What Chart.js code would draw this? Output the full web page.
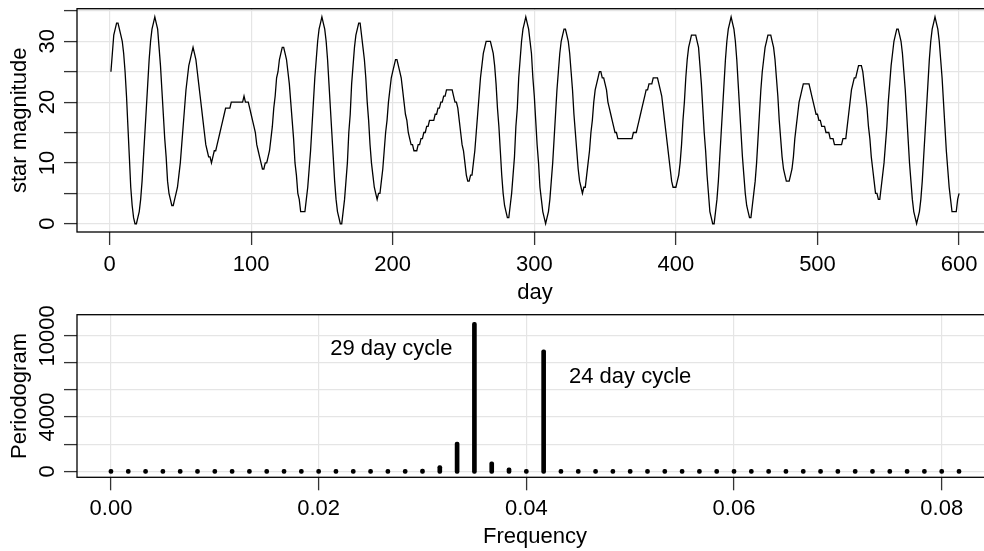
<!DOCTYPE html>
<html>
<head>
<meta charset="utf-8">
<script src="https://cdn.jsdelivr.net/npm/chart.js@4.4.1/dist/chart.umd.min.js"></script>
<style>
  html, body { margin: 0; padding: 0; background: #fff; overflow: hidden; width: 984px; height: 551px; }
  canvas { position: absolute; left: 0; }
  #top { top: 0; }
  #bottom { top: 300px; }
</style>
</head>
<body>
<canvas id="top" width="1010" height="310"></canvas>
<canvas id="bottom" width="1010" height="251"></canvas>
<script>
// star magnitude, days 1..600
var starMag = [
  25, 28, 31, 32, 33, 33, 32, 31, 30, 28,
  25, 21, 16, 11, 6, 3, 1, 0, 0, 1,
  2, 4, 7, 11, 15, 19, 23, 27, 30, 32,
  33, 34, 33, 32, 29, 26, 22, 18, 14, 11,
  7, 5, 4, 3, 3, 4, 5, 6, 8, 10,
  13, 16, 19, 22, 24, 26, 27, 28, 29, 28,
  27, 25, 23, 21, 19, 17, 15, 13, 12, 11,
  11, 10, 11, 12, 12, 13, 14, 15, 16, 17,
  18, 19, 19, 19, 19, 20, 20, 20, 20, 20,
  20, 20, 20, 20, 21, 20, 20, 20, 19, 18,
  17, 16, 15, 13, 12, 11, 10, 9, 9, 10,
  10, 11, 12, 14, 16, 19, 21, 24, 25, 27,
  28, 29, 29, 28, 27, 25, 23, 20, 17, 14,
  10, 8, 5, 4, 2, 2, 2, 2, 4, 6,
  9, 12, 16, 20, 24, 27, 30, 32, 33, 34,
  33, 32, 30, 27, 23, 19, 15, 11, 7, 4,
  2, 1, 0, 0, 2, 4, 7, 10, 15, 18,
  23, 26, 29, 31, 32, 33, 33, 31, 29, 27,
  24, 20, 17, 13, 10, 8, 6, 5, 4, 5,
  5, 7, 9, 12, 15, 17, 20, 22, 24, 25,
  26, 27, 27, 26, 25, 24, 22, 20, 18, 17,
  15, 14, 13, 13, 12, 12, 12, 13, 13, 14,
  14, 15, 15, 16, 16, 17, 17, 17, 17, 18,
  18, 19, 19, 20, 20, 21, 21, 22, 22, 22,
  22, 22, 21, 20, 20, 19, 17, 15, 13, 12,
  10, 8, 7, 7, 8, 8, 10, 12, 15, 18,
  21, 24, 26, 28, 29, 30, 30, 30, 30, 29,
  28, 26, 23, 19, 16, 12, 8, 5, 3, 2,
  1, 1, 3, 5, 8, 11, 16, 19, 24, 27,
  30, 32, 33, 34, 33, 32, 30, 28, 24, 21,
  17, 13, 10, 6, 4, 2, 1, 0, 1, 2,
  4, 7, 10, 14, 18, 22, 25, 28, 30, 31,
  32, 32, 31, 30, 28, 25, 22, 18, 15, 12,
  9, 7, 6, 5, 6, 6, 8, 10, 12, 15,
  17, 20, 22, 23, 24, 25, 25, 24, 24, 23,
  22, 20, 19, 18, 17, 16, 15, 15, 14, 14,
  14, 14, 14, 14, 14, 14, 14, 14, 14, 15,
  15, 15, 16, 17, 18, 19, 20, 21, 22, 22,
  23, 23, 23, 24, 24, 24, 24, 23, 22, 21,
  19, 17, 15, 13, 11, 9, 7, 6, 6, 6,
  7, 8, 10, 13, 17, 20, 24, 27, 29, 30,
  31, 31, 31, 31, 30, 29, 26, 23, 19, 15,
  12, 8, 5, 2, 1, 0, 0, 2, 4, 7,
  11, 15, 19, 23, 27, 30, 32, 33, 34, 33,
  32, 30, 27, 23, 19, 15, 11, 8, 5, 3,
  2, 1, 1, 3, 5, 7, 10, 14, 18, 22,
  25, 27, 29, 30, 31, 31, 31, 30, 29, 27,
  24, 21, 17, 14, 11, 9, 8, 7, 7, 7,
  8, 9, 11, 14, 16, 18, 20, 21, 22, 23,
  23, 23, 23, 23, 22, 21, 20, 19, 18, 18,
  17, 17, 16, 16, 16, 15, 15, 15, 14, 14,
  14, 13, 13, 13, 13, 13, 13, 14, 14, 14,
  16, 18, 20, 22, 23, 24, 24, 25, 26, 26,
  26, 25, 23, 21, 19, 16, 14, 11, 9, 7,
  5, 5, 4, 4, 6, 8, 10, 13, 16, 20,
  23, 26, 28, 30, 31, 32, 32, 31, 30, 28,
  25, 22, 18, 14, 10, 7, 4, 2, 1, 0,
  1, 2, 4, 7, 11, 15, 19, 23, 27, 30,
  32, 33, 34, 33, 32, 30, 27, 24, 20, 16,
  12, 9, 6, 4, 2, 2, 2, 2, 4, 5
];
var days = [];
for (var d = 1; d <= starMag.length; d++) days.push(d);

var dayTicks = [0, 100, 200, 300, 400, 500, 600];
var magTicks = [0, 5, 10, 15, 20, 25, 30, 35];
var magTickLabels = ['0', '', '10', '', '20', '', '30', ''];

// periodogram at the Fourier frequencies k/600
var freqs = [0, 0.001667, 0.003333, 0.005, 0.006667, 0.008333, 0.01, 0.011667, 0.013333, 0.015,
  0.016667, 0.018333, 0.02, 0.021667, 0.023333, 0.025, 0.026667, 0.028333, 0.03, 0.031667,
  0.033333, 0.035, 0.036667, 0.038333, 0.04, 0.041667, 0.043333, 0.045, 0.046667, 0.048333,
  0.05, 0.051667, 0.053333, 0.055, 0.056667, 0.058333, 0.06, 0.061667, 0.063333, 0.065,
  0.066667, 0.068333, 0.07, 0.071667, 0.073333, 0.075, 0.076667, 0.078333, 0.08, 0.081667];
var pgram = [0, 12, 8, 6, 10, 5, 7, 4, 9, 6,
  5, 8, 4, 6, 10, 12, 20, 40, 170, 420,
  2150, 11000, 700, 260, 80, 8970, 60, 25, 15, 10,
  8, 12, 6, 9, 5, 7, 6, 4, 8, 5,
  6, 4, 7, 5, 3, 6, 4, 5, 3, 4];
var freqTicks = [0, 0.02, 0.04, 0.06, 0.08];
var freqTickLabels = ['0.00', '0.02', '0.04', '0.06', '0.08'];
var pgTicks = [0, 2000, 4000, 6000, 8000, 10000];
var pgTickLabels = ['0', '', '4000', '', '', '10000'];

var notes = ['29 day cycle', '24 day cycle'];
var noteX = [0.027, 0.05];
var noteY = [9000, 7000];

var font = { family: "'Liberation Sans', Arial, Helvetica, sans-serif", size: 22 };
var gridColor = '#e5e5e5';

// draws the box round the plot region
var framePlugin = {
    id: 'frame',
    afterDraw: function(c) {
        var a = c.chartArea, ctx = c.ctx;
        ctx.save();
        ctx.strokeStyle = '#000';
        ctx.lineWidth = 1.3;
        ctx.strokeRect(a.left, a.top, a.right - a.left, a.bottom - a.top);
        ctx.restore();
    }
};

var notePlugin = {
    id: 'notes',
    afterDatasetsDraw: function(c) {
        var ctx = c.ctx;
        ctx.save();
        ctx.fillStyle = '#000';
        ctx.font = font.size + 'px ' + font.family;
        ctx.textAlign = 'center';
        ctx.textBaseline = 'middle';
        for (var i = 0; i < notes.length; i++) {
            ctx.fillText(notes[i], c.scales.x.getPixelForValue(noteX[i]), c.scales.y.getPixelForValue(noteY[i]));
        }
        ctx.restore();
    }
};

function xAxis(min, max, ticks, labels, title, height, pad, titlePad) {
    return {
        type: 'linear', min: min, max: max, offset: false,
        afterBuildTicks: function(s) { s.ticks = ticks.map(function(v) { return { value: v }; }); },
        afterFit: function(s) { s.height = height; s.paddingLeft = 0; s.paddingRight = 0; },
        grid: { offset: false, color: gridColor, lineWidth: 1.2, tickLength: 13, tickColor: '#333', tickWidth: 1.3 },
        border: { display: false },
        ticks: { color: '#000', font: font, padding: pad, maxRotation: 0, autoSkip: false,
                 callback: function(v, i) { return labels[i]; } },
        title: { display: true, text: title, color: '#000', font: font, padding: { top: 0, bottom: titlePad } }
    };
}

function yAxis(min, max, ticks, labels, title, pad) {
    return {
        type: 'linear', min: min, max: max,
        afterBuildTicks: function(s) { s.ticks = ticks.map(function(v) { return { value: v }; }); },
        afterFit: function(s) { s.width = 77; s.paddingTop = 0; s.paddingBottom = 0; },
        grid: { color: gridColor, lineWidth: 1.2, tickLength: 13, tickColor: '#333', tickWidth: 1.3 },
        border: { display: false },
        ticks: { color: '#000', font: font, padding: pad, minRotation: 90, maxRotation: 90,
                 crossAlign: 'center', autoSkip: false,
                 callback: function(v, i) { return labels[i]; } },
        title: { display: true, text: title, color: '#000', font: font, padding: { top: 7, bottom: 0 } }
    };
}

new Chart(document.getElementById('top'), {
    type: 'line',
    data: {
        labels: days,
        datasets: [{
            data: starMag,
            borderColor: '#000',
            borderWidth: 1.3,
            pointRadius: 0,
            tension: 0,
            fill: false
        }]
    },
    options: {
        responsive: false,
        animation: false,
        devicePixelRatio: 1,
        layout: { padding: { left: 0, top: 8.7, right: 17, bottom: 0 } },
        plugins: { legend: { display: false }, tooltip: { enabled: false } },
        scales: {
            x: xAxis(-22.96, 623.96, dayTicks, dayTicks.map(String), 'day', 78, 6.5, 4),
            y: yAxis(-1.36, 35.36, magTicks, magTickLabels, 'star magnitude', 4.3)
        }
    },
    plugins: [framePlugin]
});

var pgPoints = freqs.map(function(f, i) { return { x: f, y: pgram[i] }; });

new Chart(document.getElementById('bottom'), {
    type: 'bar',
    data: {
        datasets: [{
            data: pgPoints,
            backgroundColor: '#000',
            barThickness: 4,
            borderRadius: 2,
            borderSkipped: false,
            minBarLength: 4,
            base: -150
        }]
    },
    options: {
        responsive: false,
        animation: false,
        devicePixelRatio: 1,
        layout: { padding: { left: 0, top: 14.7, right: 17, bottom: 0 } },
        plugins: { legend: { display: false }, tooltip: { enabled: false } },
        scales: {
            x: xAxis(-0.00327, 0.08494, freqTicks, freqTickLabels, 'Frequency', 73.7, 5.5, 1),
            y: yAxis(-444, 11557, pgTicks, pgTickLabels, 'Periodogram', -14.1)
        }
    },
    plugins: [framePlugin, notePlugin]
});
</script>
</body>
</html>
